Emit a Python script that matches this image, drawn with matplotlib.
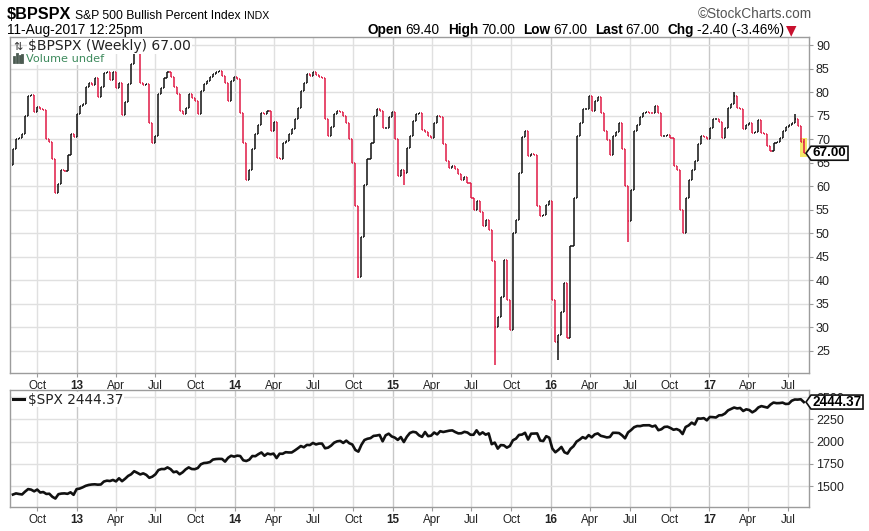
import numpy as np
import pandas as pd
import matplotlib
matplotlib.use('Agg')
import matplotlib.pyplot as plt
import matplotlib.dates as mdates
from matplotlib.collections import LineCollection
from matplotlib.patches import Rectangle, Polygon
from matplotlib.lines import Line2D
from matplotlib.transforms import IdentityTransform

W, H = 869, 531

# one bar per week (week start)
weeks = pd.date_range('2012-08-06', periods=262, freq='W-MON')

bpspx_first_open = 64.6
bpspx_close = [
    67.8, 70.0, 70.3, 71.0, 74.9, 79.2, 79.3, 75.8, 76.8, 76.5,
    76.2, 70.0, 69.3, 65.8, 58.6, 60.5, 63.5, 63.2, 66.7, 71.0,
    70.5, 75.3, 77.0, 77.5, 81.0, 82.0, 81.4, 83.0, 78.9, 81.0,
    84.0, 84.3, 82.5, 84.2, 80.8, 82.0, 75.2, 77.8, 81.7, 86.0,
    89.3, 88.3, 82.0, 81.5, 81.7, 73.5, 69.2, 70.6, 79.5, 80.8,
    83.0, 84.3, 83.2, 81.0, 79.5, 76.0, 75.3, 76.6, 79.5, 78.8,
    78.0, 75.3, 80.3, 81.7, 82.4, 83.3, 83.8, 84.3, 84.5, 83.5,
    82.0, 78.2, 82.4, 83.2, 82.8, 75.6, 69.2, 61.4, 63.5, 67.8,
    71.0, 73.1, 75.6, 75.3, 76.0, 71.7, 73.6, 66.0, 65.7, 69.2,
    69.5, 71.0, 72.2, 74.2, 76.7, 80.3, 82.0, 83.8, 83.5, 84.3,
    83.6, 83.2, 83.0, 74.2, 70.6, 72.5, 75.3, 76.0, 75.7, 75.0,
    73.5, 70.0, 64.9, 55.7, 40.8, 49.3, 60.3, 65.7, 69.2, 75.0,
    76.3, 76.0, 72.4, 72.4, 74.6, 75.8, 70.0, 62.1, 63.5, 62.8,
    68.2, 70.6, 73.8, 75.3, 75.5, 72.0, 71.5, 70.6, 70.2, 73.5,
    75.0, 74.8, 68.9, 65.3, 63.9, 64.2, 63.7, 62.5, 61.4, 62.0,
    60.7, 57.5, 55.0, 56.8, 54.6, 51.5, 52.8, 50.7, 44.0, 30.1,
    32.2, 36.5, 44.3, 35.8, 29.4, 50.0, 52.8, 62.8, 70.5, 71.7,
    66.4, 66.8, 66.7, 55.7, 53.6, 53.8, 56.1, 56.8, 35.8, 26.9,
    28.3, 33.3, 39.4, 27.7, 47.2, 57.5, 70.6, 73.5, 76.3, 76.5,
    79.2, 76.0, 78.1, 79.0, 75.6, 71.7, 69.8, 66.7, 70.6, 71.5,
    73.5, 68.0, 60.0, 52.5, 59.2, 71.7, 73.1, 74.6, 75.6, 75.8,
    75.6, 75.5, 77.1, 75.6, 70.6, 70.6, 70.8, 70.3, 64.2, 63.5,
    55.0, 50.0, 57.5, 61.4, 63.5, 65.3, 68.9, 70.6, 70.4, 70.0,
    72.4, 74.2, 74.2, 73.6, 70.3, 72.4, 76.7, 77.4, 79.2, 76.7,
    76.5, 72.1, 73.0, 73.5, 71.4, 71.5, 74.0, 71.4, 71.0, 68.5,
    67.5, 69.2, 69.3, 70.3, 71.7, 72.6, 73.1, 73.5, 74.3, 72.8,
    69.4, 67.0,
]
# weeks whose range went beyond open/close
bpspx_low_ext = {114: 40.5, 129: 60.3, 159: 22.1, 180: 23.0, 203: 48.2}
bpspx_high_ext = {238: 80.0, 258: 75.4, 261: 70.0}

spx_close = [
    # 2012
    1405, 1418, 1411, 1406, 1438, 1466, 1460, 1441, 1461, 1428,
    1433, 1412, 1414, 1380, 1360, 1409, 1416, 1418, 1413, 1430, 1402,
    # 2013
    1466, 1472, 1486, 1503, 1513, 1518, 1520, 1516, 1518, 1551,
    1561, 1557, 1569, 1553, 1588, 1555, 1582, 1614, 1633, 1667,
    1650, 1631, 1643, 1626, 1593, 1606, 1632, 1680, 1692, 1691,
    1710, 1691, 1656, 1664, 1633, 1655, 1688, 1710, 1692, 1690,
    1703, 1745, 1759, 1762, 1770, 1798, 1804, 1806, 1805, 1775,
    1818, 1841,
    # 2014
    1831, 1842, 1838, 1790, 1782, 1797, 1838, 1836, 1859, 1878,
    1841, 1866, 1857, 1865, 1815, 1864, 1863, 1881, 1878, 1878,
    1900, 1924, 1950, 1936, 1963, 1961, 1985, 1968, 1978, 1978,
    1925, 1932, 1955, 1988, 2003, 2008, 1985, 2011, 1982, 1967,
    1906, 1887, 1964, 2018, 2032, 2039, 2064, 2068, 2075, 2003,
    2071, 2089,
    # 2015
    2058, 2045, 2019, 2051, 1995, 2055, 2097, 2110, 2104, 2071,
    2053, 2108, 2061, 2067, 2102, 2081, 2117, 2108, 2116, 2123,
    2126, 2107, 2092, 2094, 2110, 2102, 2077, 2077, 2127, 2080,
    2104, 2078, 2092, 1971, 1989, 1921, 1961, 1958, 1932, 1951,
    2015, 2033, 2075, 2079, 2099, 2023, 2089, 2090, 2092, 2012,
    2006, 2061, 2044,
    # 2016
    1922, 1880, 1907, 1940, 1880, 1865, 1918, 1948, 2000, 2022,
    2050, 2035, 2073, 2048, 2081, 2092, 2065, 2057, 2047, 2052,
    2099, 2099, 2096, 2071, 2037, 2103, 2130, 2162, 2175, 2174,
    2183, 2184, 2184, 2169, 2180, 2128, 2139, 2165, 2168, 2153,
    2133, 2141, 2126, 2085, 2164, 2182, 2213, 2192, 2260, 2258,
    2264, 2239,
    # 2017
    2277, 2275, 2271, 2295, 2297, 2316, 2351, 2367, 2383, 2373,
    2378, 2344, 2363, 2355, 2329, 2349, 2384, 2399, 2391, 2382,
    2416, 2439, 2432, 2433, 2438, 2423, 2425, 2459, 2473, 2472,
    2476, 2444.37,
]

quarters = pd.date_range('2012-10-01', '2017-07-01', freq='QS')
bp_ticks = list(range(25, 95, 5))
spx_ticks = [1500, 1750, 2000, 2250, 2500]

RED = '#e01a45'
GRID = '#e0e0e0'
YEAR_GRID = '#c8c8c8'
FRAME = '#9c9c9c'
NARROW = ['Liberation Sans Narrow', 'DejaVu Sans Condensed', 'Liberation Sans']

plt.rcParams['font.family'] = ['Liberation Sans', 'DejaVu Sans']

fig = plt.figure(figsize=(W / 100, H / 100), dpi=100)
ax1 = fig.add_axes([9.5 / W, 1 - 373 / H, 799.5 / W, 336 / H])
ax2 = fig.add_axes([9.5 / W, 1 - 507 / H, 799.5 / W, 117 / H])


def style_axes(ax, yticks):
    for d in quarters:
        ax.axvline(d, color=YEAR_GRID if d.month == 1 else GRID, lw=1.0, zorder=0)
    ax.set_xlim(pd.Timestamp('2012-07-29'), pd.Timestamp('2017-08-19'))
    ax.set_yticks(yticks)
    ax.grid(axis='y', color=GRID, lw=1.0, zorder=0)
    ax.set_axisbelow(True)
    ax.yaxis.tick_right()
    ax.set_xticks(quarters)
    ax.set_xticklabels([str(d.year % 100) if d.month == 1 else d.strftime('%b')
                        for d in quarters])
    for lab, d in zip(ax.get_xticklabels(), quarters):
        if d.month == 1:
            lab.set_fontweight('bold')
    ax.tick_params(axis='x', length=3, width=0.8, color=FRAME, labelsize=8.4,
                   labelcolor='#222', pad=2)
    ax.tick_params(axis='y', length=3, width=0.8, color=FRAME, labelsize=9,
                   labelcolor='#222', pad=2)
    for sp in ax.spines.values():
        sp.set_color(FRAME)
        sp.set_linewidth(1.0)


style_axes(ax1, bp_ticks)
style_axes(ax2, spx_ticks)

# --- OHLC bars for the bullish percent index
xs = mdates.date2num(weeks)
closes = np.array(bpspx_close)
opens = np.r_[bpspx_first_open, closes[:-1]]
highs = np.maximum(opens, closes)
lows = np.minimum(opens, closes)
for i, v in bpspx_low_ext.items():
    lows[i] = v
for i, v in bpspx_high_ext.items():
    highs[i] = v

tick = 2.4
segs_up, segs_dn = [], []
for x, o, hi, lo, c in zip(xs, opens, highs, lows, closes):
    bar = [[(x, lo), (x, hi)], [(x - tick, o), (x, o)], [(x, c), (x + tick, c)]]
    (segs_up if c >= o else segs_dn).extend(bar)
ax1.add_collection(LineCollection(segs_up, colors='#111111', linewidths=1.1, zorder=3))
ax1.add_collection(LineCollection(segs_dn, colors=RED, linewidths=1.1, zorder=3))
ax1.set_ylim(20.3, 91.7)
ax1.add_patch(Rectangle((xs[-1] - 8, lows[-1] - 0.7), 15, highs[-1] - lows[-1] + 1.0,
                        facecolor='#f4e76a', edgecolor='none', zorder=2))

# --- S&P 500 line
ax2.plot(weeks, spx_close, color='#111111', lw=1.9, zorder=3)
ax2.set_ylim(1265, 2580)

renderer = fig.canvas.get_renderer()


def put(x, y, s, width=None, **kw):
    kw.setdefault('va', 'baseline')
    t = fig.text(x / W, 1 - y / H, s, **kw)
    if width:
        w = t.get_window_extent(renderer).width
        t.set_fontsize(t.get_fontsize() * width / w)
    return t


def put_row(x, y, pieces, width, size=10):
    # pieces: (text, gap after in px, kwargs)
    def lay(sz):
        cx, objs = x, []
        for s, gap, kw in pieces:
            t = fig.text(cx / W, 1 - y / H, s, fontsize=sz, va='baseline', **kw)
            cx += t.get_window_extent(renderer).width + gap
            objs.append(t)
        return objs, cx - x
    objs, total = lay(size)
    gaps = sum(g for _, g, _ in pieces)
    for t in objs:
        t.remove()
    lay(size * (width - gaps) / (total - gaps))


def pix_line(x0, y0, x1, y1, **kw):
    fig.add_artist(Line2D([x0, x1], [H - y0, H - y1], transform=IdentityTransform(), **kw))


def price_tag(ax, val, label, right):
    yp = ax.transData.transform((ax.get_xlim()[0], val))[1]
    left, tip, hh = 811, 806, 7
    pts = [(tip, yp), (left, yp + hh), (right, yp + hh), (right, yp - hh), (left, yp - hh)]
    fig.add_artist(Polygon(pts, closed=True, transform=IdentityTransform(),
                           facecolor='white', edgecolor='#111', lw=1.2, zorder=10))
    t = fig.text((left + right) / 2 / W, yp / H, label, ha='center', va='center',
                 fontweight='bold', fontsize=10, family=NARROW, zorder=11)
    w = t.get_window_extent(renderer).width
    t.set_fontsize(10 * (right - left - 3) / w)


# --- header
put(7, 19, '$BPSPX', width=64, fontsize=14, fontweight='bold', family=NARROW)
put(75, 19, 'S&P 500 Bullish Percent Index', width=164, fontsize=11, family=NARROW)
put(244, 19, 'INDX', width=25, fontsize=9, family=NARROW)
put(698, 18, '\u00a9StockCharts.com', width=114, fontsize=10, family=NARROW, color='#555')
put(7, 34, '11-Aug-2017 12:25pm', width=136, fontsize=10, family=NARROW)
B = dict(fontweight='bold', family=NARROW)
N = dict(family=NARROW)
put_row(368, 34, [('Open', 3, B), ('69.40', 8, N), ('High', 3, B), ('70.00', 8, N),
                  ('Low', 3, B), ('67.00', 8, N), ('Last', 3, B), ('67.00', 8, N),
                  ('Chg', 3, B), ('-2.40 (-3.46%)', 2, N),
                  ('\u25bc', 0, dict(family=['DejaVu Sans'], color='#c8102e'))],
        width=431)

# --- in-panel legends
put(28, 50, '$BPSPX (Weekly) 67.00', width=164, fontsize=9, family=['DejaVu Sans'],
    color='#222', bbox=dict(facecolor='white', edgecolor='none', pad=0.5))
put(13, 50, '\u21c5', fontsize=8, family=['DejaVu Sans'], color='#333')
put(26, 62, 'Volume undef', width=78, fontsize=9, family=['DejaVu Sans'],
    color='#3d8a5c', bbox=dict(facecolor='white', edgecolor='none', pad=0.5))
for k, hgt in enumerate([5, 8, 6, 7]):
    pix_line(14 + k * 2.8, 62, 14 + k * 2.8, 62 - hgt, color='#4a5a50', lw=2)
pix_line(13, 399, 24, 399, color='#111', lw=2.2)
put(28, 403.5, '$SPX 2444.37', width=95, fontsize=9, family=['DejaVu Sans'],
    color='#222', bbox=dict(facecolor='white', edgecolor='none', pad=0.5))

# --- last value tags
price_tag(ax1, bpspx_close[-1], f'{bpspx_close[-1]:.2f}', 848)
price_tag(ax2, spx_close[-1], f'{spx_close[-1]:.2f}', 863)

fig.savefig('out.png', dpi=100)
